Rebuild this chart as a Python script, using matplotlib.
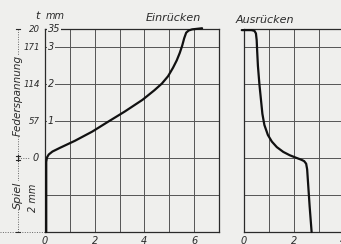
import numpy as np
import matplotlib
matplotlib.use("Agg")
import matplotlib.pyplot as plt

# values (x: unit grid, y: travel t in mm)
ein_x = [0.05, 0.05, 0.08, 0.15, 0.3, 0.6, 1.2, 1.9, 2.52, 3.2, 3.92, 4.4, 4.7, 4.95, 5.15, 5.3,
         5.42, 5.52, 5.6, 5.68, 5.78, 5.92, 6.32]
ein_y = [-2.0, -0.1, 0.02, 0.1, 0.18, 0.28, 0.47, 0.72, 0.98, 1.26, 1.58, 1.84, 2.02, 2.22, 2.45, 2.65,
         2.85, 3.05, 3.25, 3.4, 3.46, 3.49, 3.52]
aus_x = [-0.09, 0.3, 0.42, 0.48, 0.51, 0.53, 0.56, 0.62, 0.68, 0.74, 0.82, 0.96, 1.12, 1.32, 1.58,
         1.84, 2.1, 2.3, 2.42, 2.5, 2.54, 2.58, 2.64, 2.72]
aus_y = [3.47, 3.47, 3.45, 3.38, 3.2, 2.9, 2.5, 2.0, 1.6, 1.2, 0.9, 0.63, 0.45, 0.30, 0.17,
         0.08, 0.01, -0.04, -0.08, -0.15, -0.3, -0.7, -1.3, -2.0]

mm_ticks = [3.5, 3, 2, 1]
mm_labels = ["35", "3", "2", "1"]
kg_labels = ["20", "171", "114", "57"]
x_ticks = [0, 2, 4, 6]

bg = "#efefed"
ink = "#2a2a2a"
grid_c = "#555555"

fig = plt.figure(figsize=(3.41, 2.44), dpi=100, facecolor=bg)

W, H = 341.0, 244.0
ax = fig.add_axes([45 / W, (H - 232) / H, 174 / W, 203 / H])
ax2 = fig.add_axes([244 / W, (H - 232) / H, 174 / W, 203 / H])

for a in (ax, ax2):
    a.set_facecolor(bg)
    a.set_xlim(0, 7)
    a.set_ylim(-2, 3.5)
    for yv in [-1, 0, 1, 2, 3]:
        a.axhline(yv, color=grid_c, lw=0.7, zorder=1)
    for xv in range(1, 7):
        a.axvline(xv, color=grid_c, lw=0.7, zorder=1)
    for s in a.spines.values():
        s.set_color(ink)
        s.set_linewidth(0.9)
    a.set_xticks(x_ticks)
    a.set_xticklabels([str(v) for v in x_ticks], fontsize=7, style="italic", color=ink)
    a.tick_params(axis="x", length=0, pad=3)
    a.set_yticks([])

# curves
ax.plot(ein_x, ein_y, color="#111111", lw=1.6, zorder=3, clip_on=False,
        solid_capstyle="round", solid_joinstyle="round")
ax2.plot(aus_x, aus_y, color="#111111", lw=1.6, zorder=3, clip_on=False,
         solid_capstyle="round", solid_joinstyle="round")

# titles
ax.text(0.736, 3.8, "Einrücken", transform=ax.get_yaxis_transform(), ha="center", va="center",
        fontsize=8, style="italic", color=ink)
ax2.text(0.12, 3.74, "Ausrücken", transform=ax2.get_yaxis_transform(), ha="center", va="center",
         fontsize=8, style="italic", color=ink)

# y labels inside the left edge (mm) and outside (spring load)
tr = ax.get_yaxis_transform()
for yv, lab in zip(mm_ticks, mm_labels):
    ax.text(0.015, yv, lab, transform=tr, ha="left", va="center", fontsize=7, style="italic",
            color=ink, zorder=4, bbox=dict(fc=bg, ec="none", pad=0.6))
for yv, lab in zip(mm_ticks, kg_labels):
    ax.text(-0.028, yv, lab, transform=tr, ha="right", va="center", fontsize=6.2, style="italic",
            color=ink, clip_on=False)
ax.text(-0.035, 0, "0", transform=tr, ha="right", va="center", fontsize=7, style="italic",
        color=ink, clip_on=False)
ax.text(-0.046, 3.85, "t", transform=tr, ha="center", va="center", fontsize=8, style="italic",
        color=ink, clip_on=False)
ax.text(0.057, 3.85, "mm", transform=tr, ha="center", va="center", fontsize=7, style="italic",
        color=ink, clip_on=False)

# dimension lines on the left
xd = -0.155
dot = dict(color="#666666", lw=0.7, ls=(0, (1, 1.5)), clip_on=False, transform=tr)
ax.plot([xd, xd], [3.5, 0], **dot)
ax.plot([xd, xd], [0, -2], **dot)
ax.plot([xd, -0.085], [0, 0], **dot)
ax.plot([-0.26, 0], [-2, -2], **dot)
ax.plot([xd, xd], [0.08, -0.08], color=ink, lw=0.8, transform=tr, clip_on=False)
for yv in [3.5, -2, 0.05, -0.05]:
    ax.plot([xd - 0.012, xd + 0.012], [yv, yv], color=ink, lw=0.8, transform=tr, clip_on=False)

ax.text(xd, 1.7, "Federspannung", transform=tr, rotation=90, ha="center", va="center",
        fontsize=7.5, style="italic", color=ink, clip_on=False, bbox=dict(fc=bg, ec="none", pad=0.1))
ax.text(xd, -1.0, "Spiel", transform=tr, rotation=90, ha="center", va="center",
        fontsize=8, style="italic", color=ink, clip_on=False, bbox=dict(fc=bg, ec="none", pad=0.1))
ax.text(-0.07, -1.07, "2 mm", transform=tr, rotation=90, ha="center", va="center",
        fontsize=7, style="italic", color=ink, clip_on=False)

fig.savefig("out.png", dpi=100, facecolor=bg)
